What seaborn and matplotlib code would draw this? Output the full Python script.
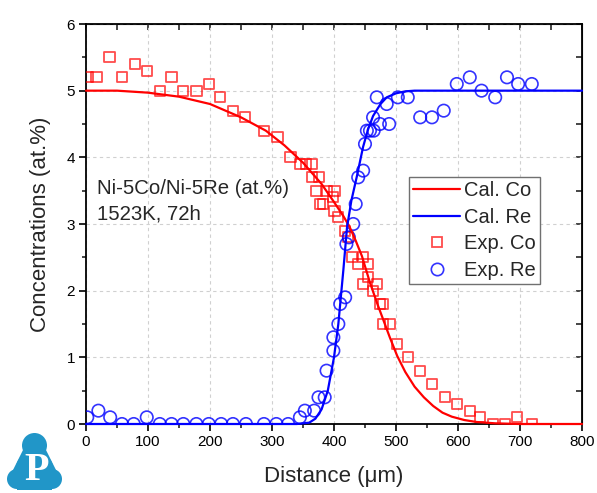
import numpy as np
import pandas as pd
import seaborn as sns
import matplotlib.pyplot as plt
from matplotlib.lines import Line2D
from matplotlib.patches import Circle, Rectangle, Polygon
from matplotlib.ticker import MultipleLocator

# calculated profiles
cal_co_x = [0, 50, 100, 150, 200, 250, 290, 320, 350, 380, 400, 415, 425, 435, 445, 458, 470, 480,
            490, 502, 515, 530, 545, 560, 575, 590, 610, 630, 660, 700, 800]
cal_co_y = [5.0, 5.0, 4.97, 4.91, 4.80, 4.60, 4.40, 4.18, 3.92, 3.60, 3.33, 3.12, 2.96, 2.75, 2.52, 2.12, 1.80, 1.55,
            1.30, 1.02, 0.78, 0.56, 0.40, 0.27, 0.17, 0.11, 0.06, 0.03, 0.01, 0.0, 0.0]
cal_re_x = [0, 300, 340, 360, 370, 380, 390, 400, 407, 415, 421, 428, 437, 447, 455, 463, 475, 485,
            500, 515, 530, 560, 800]
cal_re_y = [0, 0, 0, 0.02, 0.08, 0.22, 0.50, 1.00, 1.50, 2.30, 2.95, 3.35, 3.72, 4.16, 4.42, 4.62, 4.80, 4.90,
            4.96, 4.99, 5.0, 5.0, 5.0]

# experimental points
exp_co_x = [3, 17, 38, 58, 79, 98, 119, 138, 157, 178, 198, 216, 237, 257, 287, 309, 330, 345, 355, 364,
            364, 372, 376, 377, 382, 388, 398, 401, 401, 407, 418, 423, 429, 439, 447, 447, 455, 455, 463, 469,
            474, 479, 479, 490, 502, 519, 539, 558, 579, 598, 619, 635, 656, 676, 695, 719]
exp_co_y = [5.2, 5.2, 5.5, 5.2, 5.4, 5.3, 5.0, 5.2, 5.0, 5.0, 5.1, 4.9, 4.7, 4.6, 4.4, 4.3, 4.0, 3.9, 3.9, 3.9,
            3.7, 3.5, 3.7, 3.3, 3.3, 3.5, 3.4, 3.5, 3.2, 3.1, 2.9, 2.8, 2.5, 2.4, 2.5, 2.1, 2.4, 2.2, 2.0, 2.1,
            1.8, 1.8, 1.5, 1.5, 1.2, 1.0, 0.8, 0.6, 0.4, 0.3, 0.2, 0.1, 0.0, 0.0, 0.1, 0.0]
exp_re_x = [2, 20, 39, 58, 77, 98, 119, 138, 157, 178, 198, 218, 237, 258, 287, 307, 326, 345, 353, 368,
            375, 385, 388, 399, 399, 407, 410, 418, 420, 424, 431, 435, 439, 447, 450, 453, 458, 464, 463, 474,
            489, 469, 485, 503, 519, 539, 558, 577, 598, 619, 638, 660, 679, 697, 719]
exp_re_y = [0.1, 0.2, 0.1, 0, 0, 0.1, 0, 0, 0, 0, 0, 0, 0, 0, 0, 0, 0, 0.1, 0.2, 0.2,
            0.4, 0.4, 0.8, 1.1, 1.3, 1.5, 1.8, 1.9, 2.7, 2.8, 3.0, 3.3, 3.7, 3.8, 4.2, 4.4, 4.4, 4.4, 4.6, 4.5,
            4.5, 4.9, 4.8, 4.9, 4.9, 4.6, 4.6, 4.7, 5.1, 5.2, 5.0, 4.9, 5.2, 5.1, 5.1]

sns.set_style("ticks")
plt.rcParams['font.family'] = ['Liberation Sans', 'DejaVu Sans']

fig = plt.figure(figsize=(5.97, 4.93), dpi=100)
ax = fig.add_axes([86 / 597, 69 / 493, 496 / 597, 400 / 493])

# experimental markers
sns.scatterplot(x=exp_co_x, y=exp_co_y, ax=ax, marker='s', s=55, facecolor='none',
                edgecolor=(1, 0, 0, 0.7), linewidth=1.3, zorder=3)
sns.scatterplot(x=exp_re_x, y=exp_re_y, ax=ax, marker='o', s=80, facecolor='none',
                edgecolor=(0, 0, 1, 0.8), linewidth=1.2, zorder=3)

# calculated curves (not clipped so they sit on the x axis)
sns.lineplot(x=cal_co_x, y=cal_co_y, ax=ax, color='#ff0000', lw=1.6, sort=False,
             clip_on=False, zorder=4)
sns.lineplot(x=cal_re_x, y=cal_re_y, ax=ax, color='#0000ff', lw=1.6, sort=False,
             clip_on=False, zorder=5)

ax.set_xlim(0, 800)
ax.set_ylim(0, 6)
ax.xaxis.set_major_locator(MultipleLocator(100))
ax.xaxis.set_minor_locator(MultipleLocator(50))
ax.yaxis.set_major_locator(MultipleLocator(1))
ax.yaxis.set_minor_locator(MultipleLocator(0.5))
ax.grid(True, which='major', ls=(0, (3, 3)), color='#d0d0d0', lw=0.8)
ax.tick_params(which='major', direction='out', length=5, width=1.2, labelsize=11, colors='black', pad=3)
ax.tick_params(which='minor', direction='out', length=3, width=1.2)
for sp in ax.spines.values():
    sp.set_linewidth(1.3)
    sp.set_color('black')

# mirrored ticks on top / right pointing inward
top = ax.secondary_xaxis('top')
top.xaxis.set_major_locator(MultipleLocator(100))
top.xaxis.set_minor_locator(MultipleLocator(50))
top.tick_params(which='both', direction='in', length=4, width=1.2, labeltop=False)
right = ax.secondary_yaxis('right')
right.yaxis.set_major_locator(MultipleLocator(1))
right.yaxis.set_minor_locator(MultipleLocator(0.5))
right.tick_params(which='both', direction='in', length=4, width=1.2, labelright=False)

ax.set_xlabel('Distance (μm)', fontsize=16, labelpad=12)
ax.set_ylabel('Concentrations (at.%)', fontsize=16, labelpad=11)

ax.text(0.022, 0.575, 'Ni-5Co/Ni-5Re (at.%)', transform=ax.transAxes, fontsize=14.7, va='baseline')
ax.text(0.022, 0.51, '1523K, 72h', transform=ax.transAxes, fontsize=14.7, va='baseline')

handles = [Line2D([], [], color='#ff0000', lw=1.6),
           Line2D([], [], color='#0000ff', lw=1.6),
           Line2D([], [], ls='none', marker='s', ms=7.7, mfc='none', mec=(1, 0, 0, 0.7), mew=1.3),
           Line2D([], [], ls='none', marker='o', ms=8.9, mfc='none', mec=(0, 0, 1, 0.8), mew=1.2)]
leg = ax.legend(handles, ['Cal. Co', 'Cal. Re', 'Exp. Co', 'Exp. Re'], loc='upper left',
                bbox_to_anchor=((409 - 86) / 496, (424 - 177) / 400), borderaxespad=0,
                fontsize=14.5, handlelength=2.35, handletextpad=0.2, labelspacing=0.38,
                borderpad=0.2, fancybox=False, framealpha=1, edgecolor='#707070')
leg.get_frame().set_linewidth(1.0)
leg.set_zorder(6)

# logo in bottom-left corner (pixel coordinates)
logo = fig.add_axes([0, 0, 70 / 597, 68 / 493])
logo.set_xlim(0, 70)
logo.set_ylim(493, 425)
logo.axis('off')
blue = '#2196c8'
for cx, cy, r in [(34.5, 445.5, 12.5), (34.5, 470, 19), (17, 479, 10), (52, 479, 10)]:
    logo.add_patch(Circle((cx, cy), r, color=blue, lw=0))
logo.add_patch(Rectangle((17, 470), 35, 19.5, color=blue, lw=0))
logo.add_patch(Polygon([(24, 448), (45, 448), (58, 474), (11, 474)], color=blue, lw=0))
logo.text(36.5, 480, 'P', color='white', fontsize=29, fontweight='bold', ha='center', va='baseline',
          family=['Liberation Serif', 'DejaVu Serif'])

fig.savefig('out.png', dpi=100)
